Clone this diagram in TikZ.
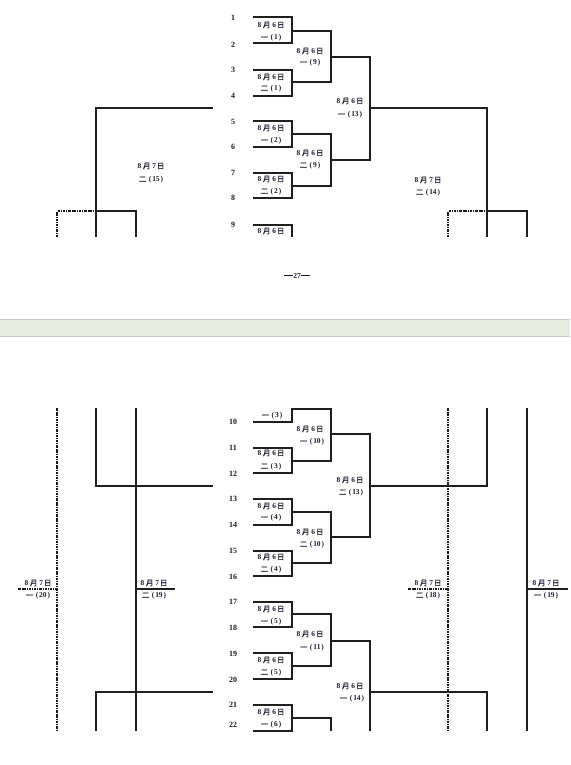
\documentclass[tikz,border=0pt]{standalone}
\usepackage{fontspec}
\setmainfont{Liberation Serif}
\newfontfamily\cjk[AutoFakeBold=1.6]{Noto Sans CJK SC}
\definecolor{ink}{RGB}{28,28,52}
\definecolor{bandfill}{RGB}{230,237,224}
\definecolor{bandline}{RGB}{198,202,194}
\newcommand\mdate[1]{{\bfseries 8}\hspace{1.8pt}{\cjk\bfseries 月}\hspace{1.8pt}{\bfseries #1}\hspace{1pt}{\cjk\bfseries 日}}
\newcommand\mres[2]{{\cjk\bfseries #1}\hspace{2.5pt}{\bfseries (\hspace{1pt}#2\hspace{1pt})}}
\begin{document}
\begin{tikzpicture}[x=1pt,y=-1pt,
  lbl/.style={font=\fontsize{7.4}{8}\selectfont, text=ink, inner sep=0pt, anchor=center},
  num/.style={font=\bfseries\fontsize{8}{9}\selectfont, text=ink, inner sep=0pt, anchor=center},
  ln/.style={line width=1.05pt, draw=black!88},
  dd/.style={line width=1.05pt, draw=black!90, dash pattern=on 2.5pt off 1pt on 0.8pt off 1pt}]
\useasboundingbox (0,0) rectangle (570,765);
\fill[white] (0,0) rectangle (570,765);
% band between pages
\fill[bandfill] (0,319) rectangle (570,337);
\draw[bandline, line width=0.8pt] (0,319.4) -- (570,319.4);
\draw[bandline, line width=0.8pt] (0,336.6) -- (570,336.6);
\node[lbl, font=\bfseries\fontsize{7.5}{8}\selectfont] (pg) at (297,276) {\rule[2.2pt]{9pt}{0.9pt}27\rule[2.2pt]{9pt}{0.9pt}};

% ---------- page 1 ----------
\foreach \n/\y in {1/18,2/45,3/70,4/96,5/122,6/147,7/173,8/198,9/225}
  \node[num] (n\n) at (233,\y) {\n};
% boxes
\draw[ln] (253,17) -| (292,43) -- (253,43);
\draw[ln] (253,70) -| (292,96) -- (253,96);
\draw[ln] (253,121) -| (292,147) -- (253,147);
\draw[ln] (253,173) -| (292,198) -- (253,198);
\draw[ln] (253,225) -| (292,237);
\node[lbl] (a1) at (271,25) {\mdate{6}};
\node[lbl] (b1) at (271,38) {\mres{一}{1}};
\node[lbl] (a2) at (271,77) {\mdate{6}};
\node[lbl] (b2) at (271,89) {\mres{二}{1}};
\node[lbl] (a3) at (271,128) {\mdate{6}};
\node[lbl] (b3) at (271,141) {\mres{一}{2}};
\node[lbl] (a4) at (271,179) {\mdate{6}};
\node[lbl] (b4) at (271,192) {\mres{二}{2}};
\node[lbl] (a5) at (271,231) {\mdate{6}};
% brackets
\draw[ln] (292,31) -| (331,82) -- (292,82);
\draw[ln] (292,134) -| (331,186) -- (292,186);
\node[lbl] (c1) at (310,51) {\mdate{6}};
\node[lbl] (d1) at (310,63) {\mres{一}{9}};
\node[lbl] (c2) at (310,153) {\mdate{6}};
\node[lbl] (d2) at (310,166) {\mres{二}{9}};
\draw[ln] (331,57) -| (370,160) -- (331,160);
\node[lbl] (e1) at (350,101) {\mdate{6}};
\node[lbl] (f1) at (350,115) {\mres{一}{13}};
\draw[ln] (370,108) -| (487,237);
\draw[ln] (213,108) -| (96,237);
\node[lbl] (g1) at (151,166) {\mdate{7}};
\node[lbl] (h1) at (151,180) {\mres{二}{15}};
\node[lbl] (g2) at (428,180) {\mdate{7}};
\node[lbl] (h2) at (428,193) {\mres{二}{14}};
\draw[dd] (57,237) |- (96,211);
\draw[ln] (96,211) -| (136,237);
\draw[dd] (448,237) |- (487,211);
\draw[ln] (487,211) -| (527,237);

% ---------- page 2 ----------
\foreach \n/\y in {10/422,11/448,12/474,13/499,14/525,15/551,16/577,17/602,18/628,19/654,20/680,21/705,22/725}
  \node[num] (n\n) at (233,\y) {\n};
\draw[ln] (253,422) -| (292,409) -- (331,409) |- (292,461);
\node[lbl] (b6) at (272,416) {\mres{一}{3}};
\draw[ln] (253,448) -| (292,473) -- (253,473);
\node[lbl] (a7) at (271,453) {\mdate{6}};
\node[lbl] (b7) at (271,467) {\mres{二}{3}};
\node[lbl] (c3) at (310,429) {\mdate{6}};
\node[lbl] (d3) at (312,442) {\mres{一}{10}};
\draw[ln] (331,434) -| (370,537) -- (331,537);
\node[lbl] (e2) at (350,480) {\mdate{6}};
\node[lbl] (f2) at (351,493) {\mres{二}{13}};
\draw[ln] (370,486) -| (487,408);
\draw[ln] (213,486) -| (96,408);
\draw[ln] (253,499) -| (292,525) -- (253,525);
\node[lbl] (a8) at (271,506) {\mdate{6}};
\node[lbl] (b8) at (271,518) {\mres{一}{4}};
\draw[ln] (292,512) -| (331,563) -- (292,563);
\node[lbl] (c4) at (310,532) {\mdate{6}};
\node[lbl] (d4) at (312,545) {\mres{二}{10}};
\draw[ln] (253,551) -| (292,576) -- (253,576);
\node[lbl] (a9) at (271,557) {\mdate{6}};
\node[lbl] (b9) at (271,570) {\mres{二}{4}};
\draw[ln] (253,602) -| (292,627) -- (253,627);
\node[lbl] (a10) at (271,609) {\mdate{6}};
\node[lbl] (b10) at (271,622) {\mres{一}{5}};
\draw[ln] (292,614) -| (331,666) -- (292,666);
\node[lbl] (c5) at (310,634) {\mdate{6}};
\node[lbl] (d5) at (312,648) {\mres{一}{11}};
\draw[ln] (253,653) -| (292,679) -- (253,679);
\node[lbl] (a11) at (271,660) {\mdate{6}};
\node[lbl] (b11) at (271,673) {\mres{二}{5}};
\draw[ln] (331,641) -| (370,731);
\node[lbl] (e3) at (350,686) {\mdate{6}};
\node[lbl] (f3) at (352,699) {\mres{一}{14}};
\draw[ln] (370,692) -| (487,731);
\draw[ln] (213,692) -| (96,731);
\draw[ln] (253,705) -| (292,731) -- (253,731);
\node[lbl] (a12) at (271,712) {\mdate{6}};
\node[lbl] (b12) at (271,725) {\mres{一}{6}};
\draw[ln] (292,718) -| (331,731);
% side columns
\draw[dd] (57,408) -- (57,731);
\draw[ln] (136,408) -- (136,731);
\draw[dd] (18,589) -- (57,589);
\draw[ln] (136,589) -- (175,589);
\node[lbl] (g3) at (38,583) {\mdate{7}};
\node[lbl] (h3) at (38,596) {\mres{一}{20}};
\node[lbl] (g4) at (154,583) {\mdate{7}};
\node[lbl] (h4) at (154,596) {\mres{二}{19}};
\draw[dd] (448,408) -- (448,731);
\draw[ln] (527,408) -- (527,731);
\draw[dd] (408,589) -- (448,589);
\draw[ln] (527,589) -- (568,589);
\node[lbl] (g5) at (428,583) {\mdate{7}};
\node[lbl] (h5) at (428,596) {\mres{二}{18}};
\node[lbl] (g6) at (546,583) {\mdate{7}};
\node[lbl] (h6) at (546,596) {\mres{一}{19}};
\end{tikzpicture}
\end{document}
